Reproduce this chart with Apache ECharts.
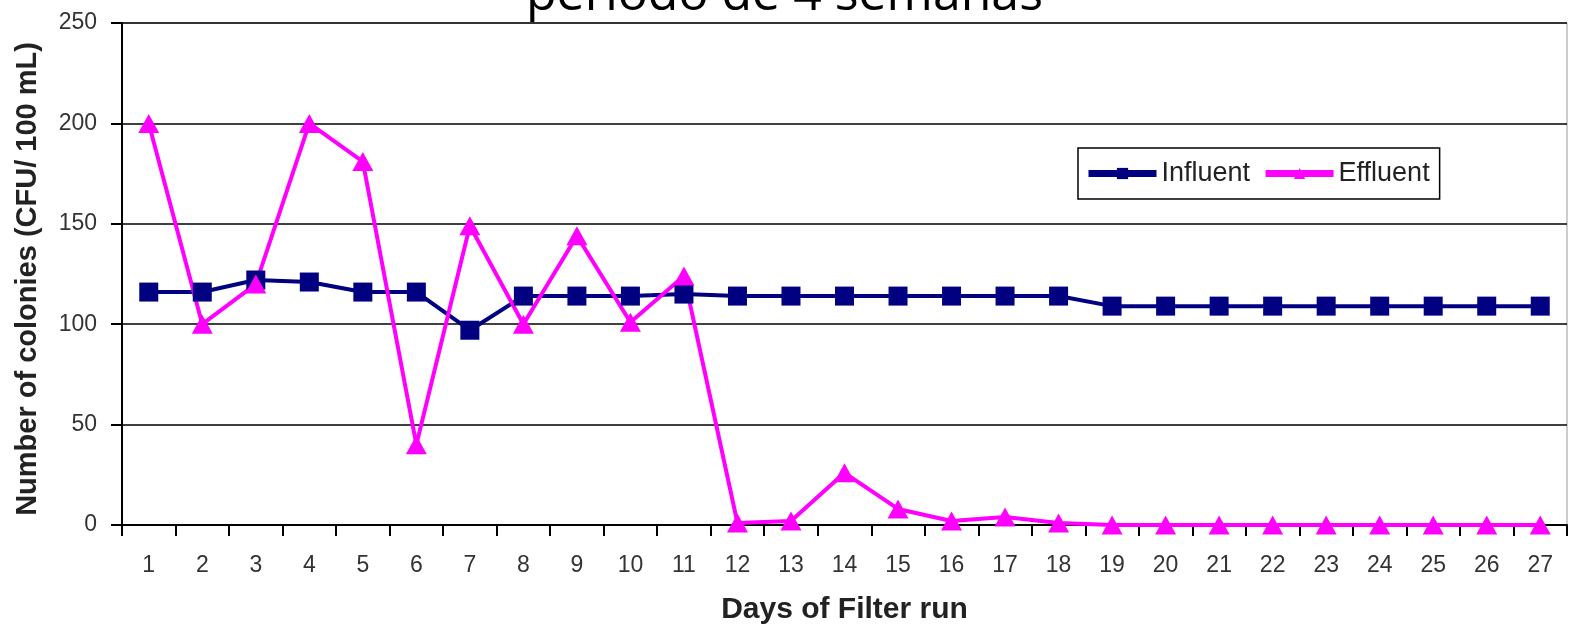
<!DOCTYPE html>
<html>
<head>
<meta charset="utf-8">
<script src="https://cdn.jsdelivr.net/npm/echarts@6/dist/echarts.min.js"></script>
<style>html,body{margin:0;padding:0;background:#fff;}#c{width:1569px;height:630px;}</style>
</head>
<body>
<div id="c"></div>
<script>
const titleText = 'período de 4 semanas';
const days = ['1','2','3','4','5','6','7','8','9','10','11','12','13','14','15','16','17','18','19','20','21','22','23','24','25','26','27'];
const influent = [116,116,122,121,116,116,97,114,114,114,115,114,114,114,114,114,114,114,109,109,109,109,109,109,109,109,109];
const effluent = [200,100,120,200,181,40,149,100,144,101,124,1,2,26,8,2,4,1,0,0,0,0,0,0,0,0,0];
const yTicks = {min:0, max:250, interval:50};

const chart = echarts.init(document.getElementById('c'), null, {renderer:'canvas'});
const lblFont = 'Liberation Sans, Arial, sans-serif';
chart.setOption({
  animation:false,
  backgroundColor:'#fff',
  title:{text:titleText, left:'center', top:-34, textStyle:{fontFamily:'Open Sans, sans-serif', fontSize:50, fontWeight:'normal', color:'#000'}},
  grid:{left:122, top:23, right:2, bottom:103, show:true, borderColor:'#999', borderWidth:1},
  legend:{left:1078, top:148, orient:'horizontal', borderColor:'#000', borderWidth:1.5, padding:[12,10,12,7], itemGap:12,
    itemWidth:68, itemHeight:14, textStyle:{fontFamily:lblFont, fontSize:27, color:'#222'},
    lineStyle:{width:7},
    data:['Influent','Effluent']},
  xAxis:{type:'category', data:days, boundaryGap:true,
    axisLine:{lineStyle:{color:'#000', width:2}},
    axisTick:{show:true, length:11, lineStyle:{color:'#000', width:2}},
    axisLabel:{fontFamily:lblFont, fontSize:23, color:'#333', margin:29},
    name:'Days of Filter run', nameLocation:'middle', nameGap:70,
    nameTextStyle:{fontFamily:lblFont, fontSize:30, fontWeight:'bold', color:'#222'}},
  yAxis:{type:'value', min:yTicks.min, max:yTicks.max, interval:yTicks.interval,
    axisLine:{show:true, lineStyle:{color:'#000', width:2}},
    axisTick:{show:true, length:11, lineStyle:{color:'#000', width:2}},
    splitLine:{lineStyle:{color:'#000', width:1.5}},
    axisLabel:{fontFamily:lblFont, fontSize:23, color:'#333', margin:25},
    name:'Number of colonies (CFU/ 100 mL)', nameLocation:'middle', nameGap:80, nameRotate:90,
    nameTextStyle:{fontFamily:lblFont, fontSize:29, fontWeight:'bold', color:'#222', padding:[0,10,0,0]}},
  series:[
    {name:'Influent', type:'line', data:influent, symbol:'rect', symbolSize:19,
      lineStyle:{color:'#000080', width:4}, itemStyle:{color:'#000080'}},
    {name:'Effluent', type:'line', data:effluent, symbol:'triangle', symbolSize:[21,19],
      lineStyle:{color:'#FF00FF', width:4}, itemStyle:{color:'#FF00FF'}}
  ]
});
</script>
</body>
</html>
